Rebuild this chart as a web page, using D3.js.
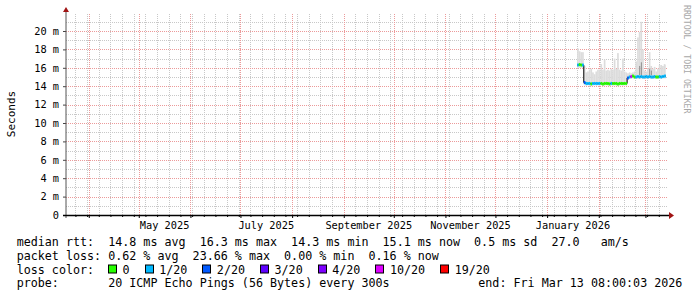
<!DOCTYPE html>
<html>
<head>
<meta charset="utf-8">
<script src="https://cdn.jsdelivr.net/npm/d3@7"></script>
<style>
body { margin: 0; background: #fff; }
text { font-family: "DejaVu Sans Mono", monospace; white-space: pre; }
</style>
</head>
<body>
<svg id="chart" width="697" height="297"></svg>
<script>
// smokeping style latency graph, last 360 days

const startTime = '2025-03-18T08:00:03Z';
const endTime = '2026-03-13T08:00:03Z';
const yMax = 22; // ms

// one sample per day, values in ms
const days = [
  '2026-01-19','2026-01-20','2026-01-21','2026-01-22','2026-01-23','2026-01-24','2026-01-25',
  '2026-01-26','2026-01-27','2026-01-28','2026-01-29','2026-01-30','2026-01-31','2026-02-01',
  '2026-02-02','2026-02-03','2026-02-04','2026-02-05','2026-02-06','2026-02-07','2026-02-08',
  '2026-02-09','2026-02-10','2026-02-11','2026-02-12','2026-02-13','2026-02-14','2026-02-15',
  '2026-02-16','2026-02-17','2026-02-18','2026-02-19','2026-02-20','2026-02-21','2026-02-22',
  '2026-02-23','2026-02-24','2026-02-25','2026-02-26','2026-02-27','2026-02-28','2026-03-01',
  '2026-03-02','2026-03-03','2026-03-04','2026-03-05','2026-03-06','2026-03-07','2026-03-08',
  '2026-03-09','2026-03-10','2026-03-11','2026-03-12','2026-03-13'
];
const median = [
  16.3, 16.35, 16.3, 16.3, 14.4, 14.3, 14.3, 14.3, 14.25, 14.3, 14.3, 14.3, 14.3, 14.3,
  14.3, 14.25, 14.3, 14.3, 14.3, 14.25, 14.3, 14.3, 14.3, 14.3, 14.25, 14.3, 14.3, 14.3,
  14.3, 14.3, 14.9, 15.0, 15.05, 15.1, 15.0, 15.0, 15.05, 15.0, 15.05, 15.0, 15.0, 15.05,
  15.0, 15.05, 15.0, 15.0, 15.05, 15.0, 15.0, 15.05, 15.0, 15.05, 15.1, 15.1
];
const smokeLo = [
  16.0, 16.0, 16.0, 16.0, 14.1, 14.05, 14.1, 14.05, 14.0, 14.05, 14.1, 14.05, 14.1, 14.05,
  14.1, 14.0, 14.05, 14.1, 14.05, 14.0, 14.1, 14.05, 14.1, 14.05, 14.0, 14.05, 14.1, 14.05,
  14.1, 14.05, 14.7, 14.8, 14.8, 14.85, 14.8, 14.8, 14.8, 14.8, 14.85, 14.8, 14.8, 14.8,
  14.8, 14.85, 14.8, 14.8, 14.8, 14.8, 14.8, 14.8, 14.8, 14.85, 14.85, 14.85
];
const smokeHi = [
  18.1, 17.8, 17.7, 17.7, 16.2, 15.5, 15.6, 15.8, 15.9, 15.5, 15.3, 15.6, 15.8, 15.8,
  16.4, 15.8, 16.9, 15.7, 15.8, 15.7, 15.9, 15.8, 17.0, 15.9, 17.6, 15.8, 15.7, 17.0,
  15.6, 15.5, 15.4, 15.5, 15.4, 15.5, 15.6, 16.7, 19.3, 19.9, 21.0, 18.0, 15.7, 15.6,
  15.9, 17.7, 16.2, 15.9, 16.1, 15.6, 15.9, 16.3, 16.3, 16.2, 16.4, 16.3
];
// darker inner smoke, only on a few days
const darkLo = { 37: 15.2, 38: 15.2, 43: 15.2, 44: 15.2 };
const darkHi = { 37: 16.2, 38: 16.6, 43: 15.9, 44: 15.7 };
// index into lossColors for every day
const lossIdx = [
  1, 0, 0, 1, 2, 1, 1, 1, 0, 1, 1, 1, 1, 1,
  0, 0, 0, 0, 0, 0, 1, 0, 0, 0, 0, 0, 0, 0,
  0, 0, 2, 1, 5, 0, 0, 1, 1, 1, 1, 1, 1, 1,
  1, 1, 1, 1, 1, 0, 0, 1, 1, 1, 1, 1
];

const lossLabels = ['0', '1/20', '2/20', '3/20', '4/20', '10/20', '19/20'];
const lossColors = ['#26ff00', '#00b8ff', '#0059ff', '#5e00ff', '#7e00ff', '#dd00ff', '#ff0000'];

const rttLine = 'median rtt:  14.8 ms avg  16.3 ms max  14.3 ms min  15.1 ms now  0.5 ms sd  27.0   am/s';
const lossLine = 'packet loss: 0.62 % avg  23.66 % max  0.00 % min  0.16 % now';
const probeLine = 'probe:       20 ICMP Echo Pings (56 Bytes) every 300s';
const endLine = 'end: Fri Mar 13 08:00:03 2026';

const main = () => {
  const svg = d3.select('#chart');
  const left = 66, right = 666, top = 12.6, bottom = 215;
  const charW = 7.05;

  const parse = d3.utcParse('%Y-%m-%d');
  const t0 = new Date(startTime), t1 = new Date(endTime);
  const x = d3.scaleUtc().domain([t0, t1]).range([left, right]);
  const y = d3.scaleLinear().domain([0, yMax]).range([bottom, top]);

  const dates = days.map(parse);
  const xEnd = i => i < dates.length - 1 ? x(dates[i + 1]) : x(t1);

  // grid
  const grid = svg.append('g');
  const minorY = d3.range(1, 22, 2);
  const majorY = d3.range(2, 22, 2);
  const months = d3.utcMonth.range(t0, t1);
  const weeks = d3.utcMonday.range(t0, t1).filter(w => !months.some(m => Math.abs(x(m) - x(w)) < 1.5));

  grid.selectAll('line.ymin').data(minorY).join('line')
    .attr('x1', left).attr('x2', right + 2)
    .attr('y1', d => Math.round(y(d)) + 0.5).attr('y2', d => Math.round(y(d)) + 0.5)
    .attr('stroke', '#c8c8c8').attr('stroke-dasharray', '1,1');
  grid.selectAll('line.xmin').data(weeks).join('line')
    .attr('x1', d => Math.round(x(d)) + 0.5).attr('x2', d => Math.round(x(d)) + 0.5)
    .attr('y1', bottom).attr('y2', 13)
    .attr('stroke', '#c8c8c8').attr('stroke-dasharray', '1,1');
  grid.selectAll('line.ymaj').data(majorY).join('line')
    .attr('x1', left).attr('x2', right + 2)
    .attr('y1', d => Math.round(y(d)) + 0.5).attr('y2', d => Math.round(y(d)) + 0.5)
    .attr('stroke', '#ec9a9a').attr('stroke-dasharray', '1,1');
  grid.selectAll('line.xmaj').data(months).join('line')
    .attr('x1', d => Math.round(x(d)) + 0.5).attr('x2', d => Math.round(x(d)) + 0.5)
    .attr('y1', bottom).attr('y2', 13)
    .attr('stroke', '#ec9a9a').attr('stroke-dasharray', '1,1');

  // smoke
  const idx = d3.range(dates.length);
  svg.append('g').selectAll('rect').data(idx).join('rect')
    .attr('x', i => x(dates[i])).attr('width', i => xEnd(i) - x(dates[i]))
    .attr('y', i => y(smokeHi[i])).attr('height', i => y(smokeLo[i]) - y(smokeHi[i]))
    .attr('fill', '#dcdcdc');
  const darkIdx = Object.keys(darkHi).map(Number);
  svg.append('g').selectAll('rect').data(darkIdx).join('rect')
    .attr('x', i => x(dates[i]) + 0.4).attr('width', i => Math.max(1, xEnd(i) - x(dates[i]) - 0.8))
    .attr('y', i => y(darkHi[i])).attr('height', i => y(darkLo[i]) - y(darkHi[i]))
    .attr('fill', '#8c8c8c');

  // median: thin black step line, then loss coloured segments on top
  const pts = idx.map(i => [x(dates[i]), y(median[i])]);
  pts.push([x(t1), y(median[median.length - 1])]);
  svg.append('path')
    .attr('d', d3.line().curve(d3.curveStepAfter)(pts))
    .attr('fill', 'none').attr('stroke', '#000').attr('stroke-width', 1);
  svg.append('g').selectAll('line').data(idx).join('line')
    .attr('x1', i => x(dates[i])).attr('x2', i => xEnd(i))
    .attr('y1', i => y(median[i])).attr('y2', i => y(median[i]))
    .attr('stroke', i => lossColors[lossIdx[i]]).attr('stroke-width', 3);

  // axes
  const yAxis = svg.append('g').attr('transform', `translate(${left},0)`)
    .call(d3.axisLeft(y).tickValues(d3.range(0, 21, 2)).tickSize(3).tickPadding(4)
      .tickFormat(d => d === 0 ? '0' : d + ' m'));
  yAxis.select('.domain').remove();
  yAxis.selectAll('text').attr('font-size', '10.3px').attr('font-family', '"DejaVu Sans Mono", monospace').attr('fill', '#000');
  yAxis.selectAll('line').attr('stroke', '#444');

  const xAxis = svg.append('g').attr('transform', `translate(0,${bottom})`)
    .call(d3.axisBottom(x).tickValues(months).tickSize(3).tickFormat(''));
  xAxis.select('.domain').remove();
  xAxis.selectAll('line').attr('stroke', '#000');
  svg.append('g').attr('transform', `translate(0,${bottom})`)
    .call(d3.axisBottom(x).tickValues(weeks).tickSize(2).tickFormat(''))
    .call(g => g.select('.domain').remove())
    .selectAll('line').attr('stroke', '#000');

  const labelMonths = d3.utcMonth.every(2).range(t0, t1)
    .map(m => new Date((+m + +d3.utcMonth.offset(m, 1)) / 2))
    .filter(m => m < t1);
  svg.append('g').selectAll('text').data(labelMonths).join('text')
    .attr('x', d => x(d)).attr('y', 228.5)
    .attr('text-anchor', 'middle').attr('font-size', '10.3px')
    .text(d => d3.utcFormat('%B %Y')(new Date(+d - 15 * 864e5)));

  svg.append('line').attr('x1', left).attr('x2', left).attr('y1', bottom + 3).attr('y2', 11)
    .attr('stroke', '#555').attr('stroke-width', 1);
  svg.append('line').attr('x1', left - 3).attr('x2', right + 3).attr('y1', bottom + 0.5).attr('y2', bottom + 0.5)
    .attr('stroke', '#000').attr('stroke-width', 1.5);
  svg.append('path').attr('d', `M${right + 3},${bottom - 3}L${right + 8},${bottom + 0.5}L${right + 3},${bottom + 4}Z`)
    .attr('fill', '#a01414');
  svg.append('path').attr('d', `M${left - 3},12L${left},7L${left + 3},12Z`)
    .attr('fill', '#a01414');

  // titles
  svg.append('text').attr('transform', 'translate(15,114) rotate(-90)')
    .attr('text-anchor', 'middle').attr('font-size', '11px').text('Seconds');
  svg.append('text').attr('transform', 'translate(684,5) rotate(90)')
    .attr('font-size', '8.2px').attr('fill', '#a8a8a8').text('RRDTOOL / TOBI OETIKER');

  // legend
  const lx = 16.7;
  const leg = svg.append('g').attr('font-size', '11.7px').attr('fill', '#000');
  leg.append('text').attr('x', lx).attr('y', 246).text(rttLine);
  leg.append('text').attr('x', lx).attr('y', 259.8).text(lossLine);
  leg.append('text').attr('x', lx).attr('y', 273.5).text('loss color:');
  leg.append('text').attr('x', lx).attr('y', 287.3).text(probeLine);
  leg.append('text').attr('x', 478.3).attr('y', 287.3).text(endLine);

  let bx = 108;
  lossLabels.forEach((lab, i) => {
    leg.append('rect').attr('x', Math.round(bx) + 0.5).attr('y', 265).attr('width', 8).attr('height', 8)
      .attr('fill', lossColors[i]).attr('stroke', '#000').attr('stroke-width', 1);
    const tx = bx + 14.6;
    leg.append('text').attr('x', tx).attr('y', 273.5).text(lab);
    bx = tx + lab.length * charW + 14.9;
  });
};

main();
</script>
</body>
</html>
